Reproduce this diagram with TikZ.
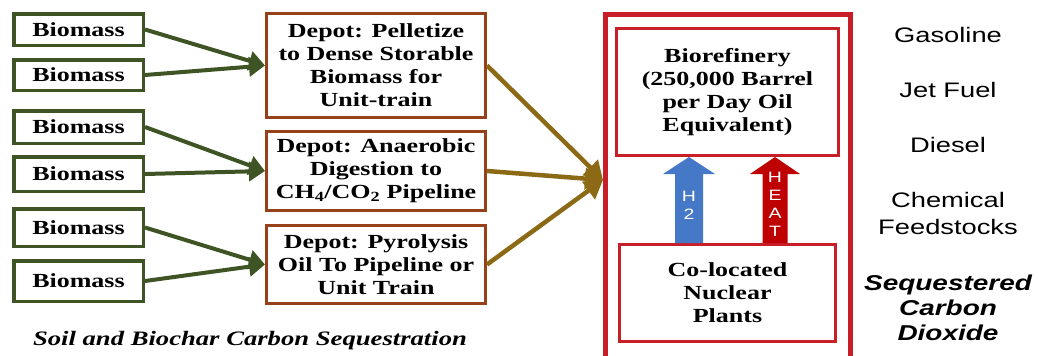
\documentclass[tikz,border=0pt]{standalone}
\usepackage{fontspec}
\setmainfont{Liberation Serif}[FakeStretch=1.3]
\setsansfont{Liberation Sans}[FakeStretch=1.3]
\usepackage{tikz}
\usetikzlibrary{arrows.meta, positioning, calc}

\definecolor{greenbox}{RGB}{62,84,36}
\definecolor{depotbrown}{RGB}{150,65,25}
\definecolor{goldarrow}{RGB}{140,105,20}
\definecolor{plantred}{RGB}{200,30,40}
\definecolor{h2blue}{RGB}{70,120,200}
\definecolor{heatred}{RGB}{190,0,0}

\begin{document}
\begin{tikzpicture}[
    x=1pt, y=-1pt,
    every node/.style={font=\fontsize{20}{23}\selectfont\bfseries},
    biomass/.style={
        rectangle,
        draw=greenbox,
        line width=3.5pt,
        minimum width=129.5pt,
        inner sep=0pt
    },
    depot/.style={
        rectangle,
        draw=depotbrown,
        line width=3pt,
        minimum width=219pt,
        align=center,
        inner sep=0pt
    },
    plantbox/.style={
        rectangle,
        draw=plantred,
        line width=3pt,
        align=center,
        inner sep=0pt
    },
    product/.style={
        font=\sffamily\fontsize{21}{27}\selectfont,
        align=center
    },
    arrowtext/.style={
        font=\sffamily\fontsize{15}{18}\selectfont,
        text=white,
        align=center
    },
    feed/.style={
        draw=greenbox,
        line width=4pt,
        -{Triangle[length=16pt, width=19pt]}
    },
    ship/.style={
        draw=goldarrow,
        line width=4.5pt,
        -{Triangle[length=18pt, width=21pt]}
    }
]
\useasboundingbox (0,0) rectangle (1039,356);
\clip (0,0) rectangle (1039,356);

% biomass sources
\node (b1) [biomass, minimum height=31.5pt] at (78.5,29.5) {Biomass};
\node (b2) [biomass, minimum height=30.5pt] at (78.5,75) {Biomass};
\node (b3) [biomass, minimum height=32.5pt] at (78.5,127) {Biomass};
\node (b4) [biomass, minimum height=34.5pt] at (78.5,174) {Biomass};
\node (b5) [biomass, minimum height=37.5pt] at (78.5,227.5) {Biomass};
\node (b6) [biomass, minimum height=40.5pt] at (78.5,281) {Biomass};

% depots
\node (d1) [depot, minimum height=104pt] at (376,65.5) {
Depot: Pelletize\\to Dense Storable\\Biomass for\\Unit-train
};
\node (d2) [depot, minimum height=79pt] at (376,171) {
Depot: Anaerobic\\Digestion to\\CH\textsubscript{4}/CO\textsubscript{2} Pipeline
};
\node (d3) [depot, minimum height=78pt] at (376,264.5) {
Depot: Pyrolysis\\Oil To Pipeline or\\Unit Train
};

% plant site
\node (plant) [draw=plantred, line width=5pt, minimum width=245pt,
    minimum height=360pt, anchor=north, inner sep=0pt] at (728,12) {};
\coordinate (inlet) at (603,180);

\node (refinery) [plantbox, minimum width=222pt, minimum height=127pt] at (727.5,92) {
Biorefinery\\(250,000 Barrel\\per Day Oil\\Equivalent)
};
\node (nuclear) [plantbox, minimum width=216pt, minimum height=97pt] at (727.5,293) {
Co-located\\Nuclear\\Plants
};

\coordinate (h2x) at (689,0);
\coordinate (heatx) at (775,0);

\fill[h2blue] ($(nuclear.north -| h2x)+(-14,0)$) -- ($(refinery.south -| h2x)+(-14,17)$)
    -- ($(refinery.south -| h2x)+(-26,17)$) -- (refinery.south -| h2x)
    -- ($(refinery.south -| h2x)+(26,17)$) -- ($(refinery.south -| h2x)+(14,17)$)
    -- ($(nuclear.north -| h2x)+(14,0)$) -- cycle;
\fill[heatred] ($(nuclear.north -| heatx)+(-12.5,0)$) -- ($(refinery.south -| heatx)+(-12.5,17)$)
    -- ($(refinery.south -| heatx)+(-25,17)$) -- (refinery.south -| heatx)
    -- ($(refinery.south -| heatx)+(25,17)$) -- ($(refinery.south -| heatx)+(12.5,17)$)
    -- ($(nuclear.north -| heatx)+(12.5,0)$) -- cycle;

\node (h2) [arrowtext] at (689,205) {H\\2};
\node (heat) [arrowtext] at (775,204) {H\\E\\A\\T};

% products
\node (gas) [product] at (948,35) {Gasoline};
\node (jet) [product] at (948,90) {Jet Fuel};
\node (diesel) [product] at (948,145) {Diesel};
\node (chem) [product] at (948,213) {Chemical\\Feedstocks};
\node (co2) [product, font=\sffamily\bfseries\itshape\fontsize{21.5}{25}\selectfont] at (948,308) {
Sequestered\\Carbon\\Dioxide
};

\node (soil) [font=\bfseries\itshape\fontsize{20.5}{22}\selectfont] at (250,341) {
Soil and Biochar Carbon Sequestration
};

\draw [feed] (b1.east) -- (d1.west);
\draw [feed] (b2.east) -- (d1.west);
\draw [feed] (b3.east) -- (d2.west);
\draw [feed] (b4.east) -- (d2.west);
\draw [feed] (b5.east) -- (d3.west);
\draw [feed] (b6.east) -- (d3.west);

\draw [ship] (d1.east) -- (inlet);
\draw [ship] (d2.east) -- (inlet);
\draw [ship] (d3.east) -- (inlet);

\end{tikzpicture}
\end{document}
